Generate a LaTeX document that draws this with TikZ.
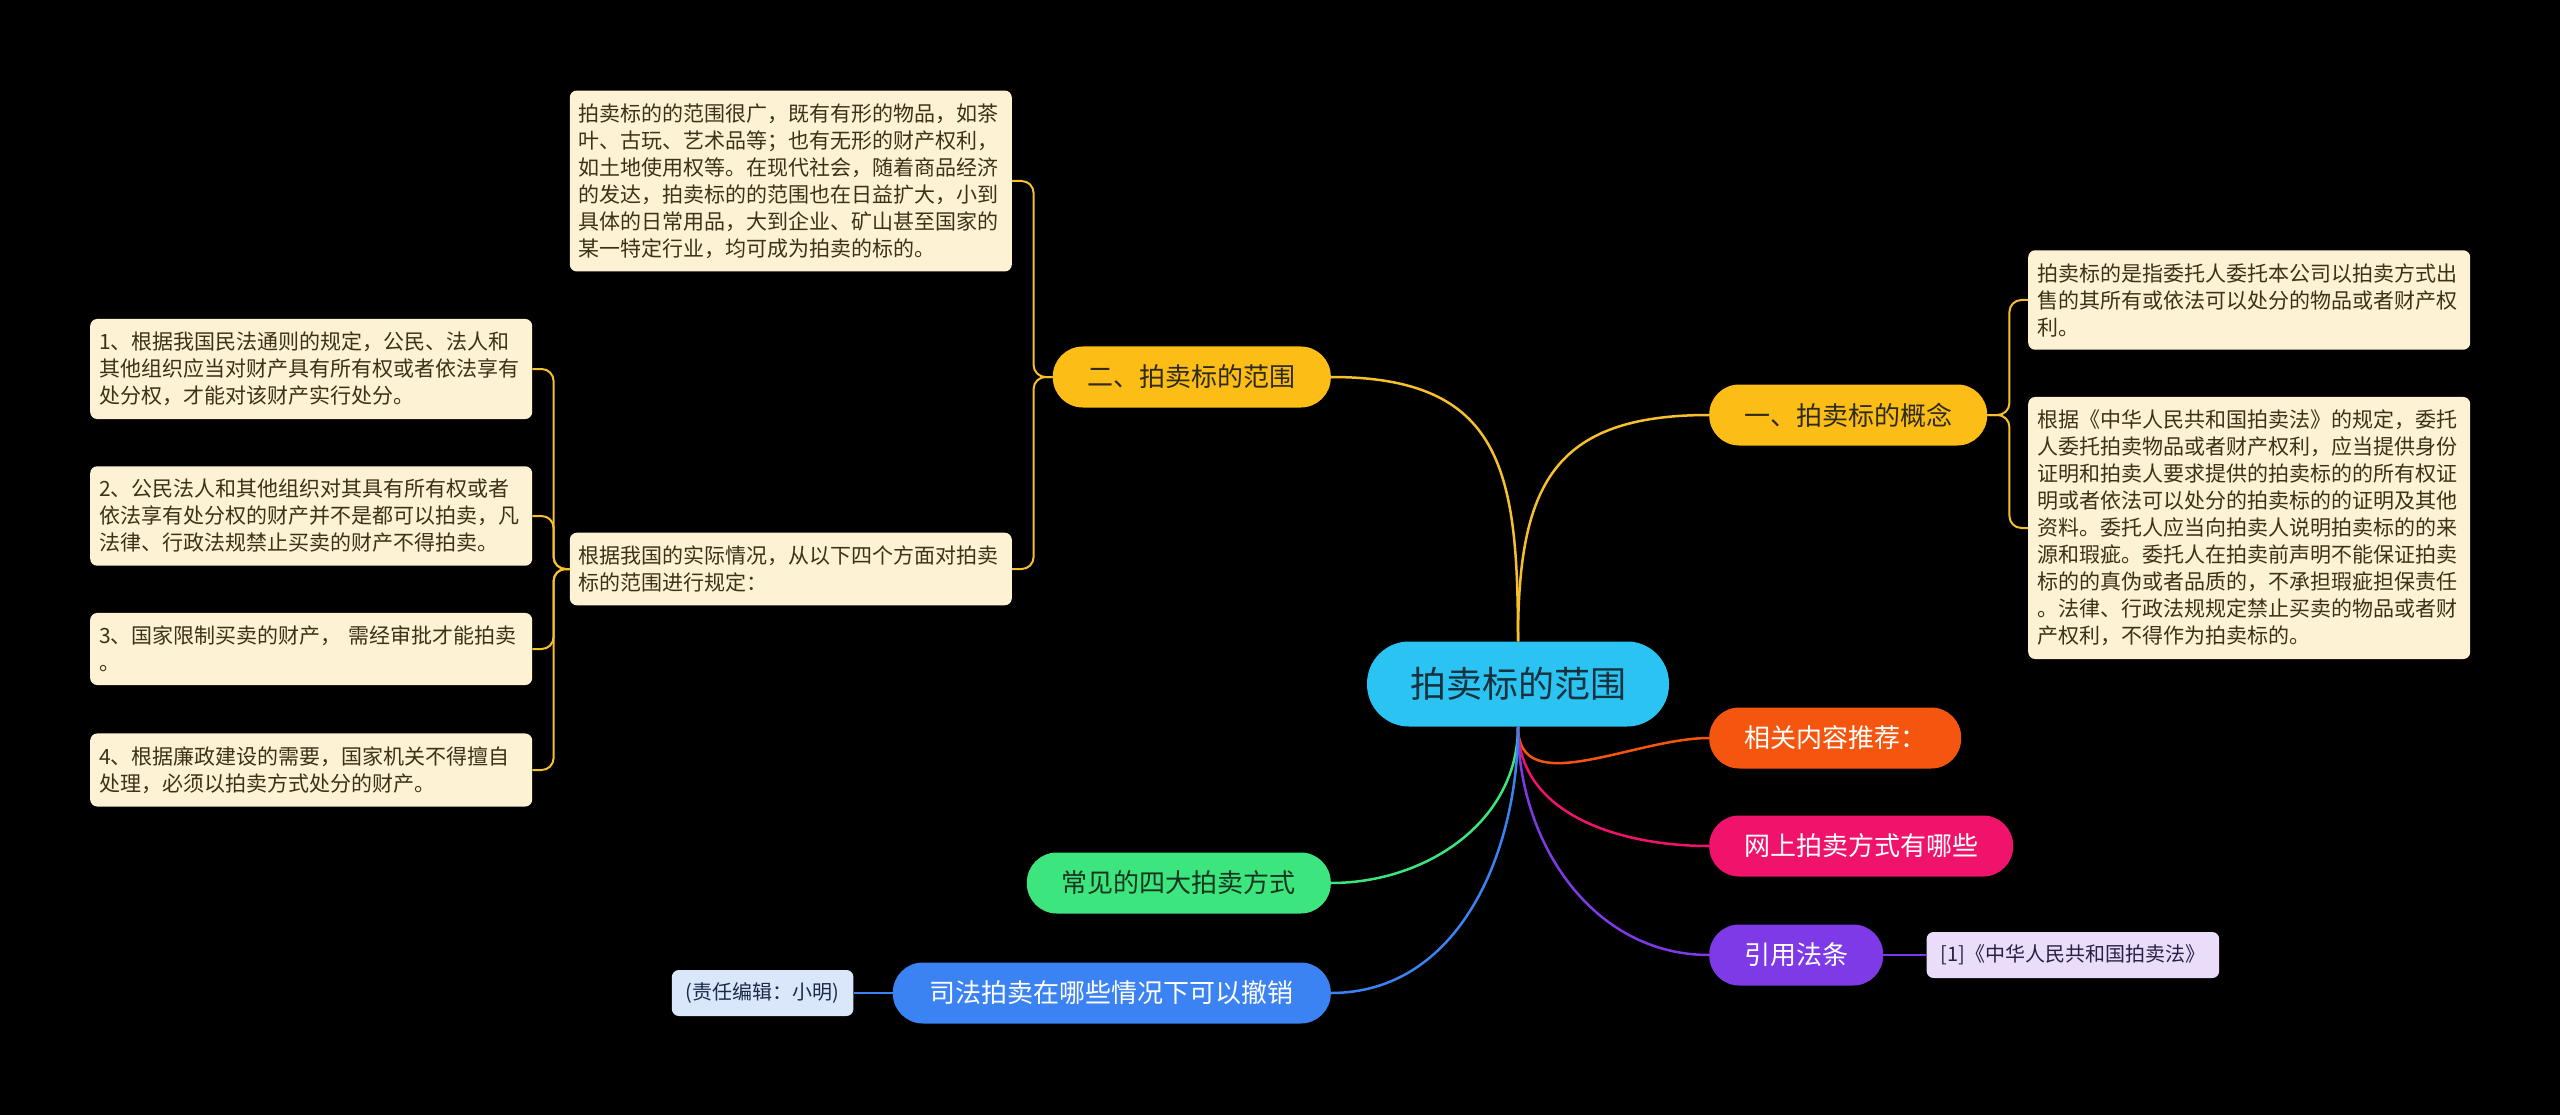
\documentclass[tikz,border=0pt]{standalone}
\usepackage{fontspec}
\setmainfont{Noto Sans CJK SC}
\usetikzlibrary{positioning}
\definecolor{rootfill}{HTML}{2BC3F1}
\definecolor{rootink}{HTML}{16323F}
\definecolor{goldfill}{HTML}{FBBD16}
\definecolor{goldink}{HTML}{2E2A1E}
\definecolor{goldline}{HTML}{F5C02C}
\definecolor{orangefill}{HTML}{F5560F}
\definecolor{pinkfill}{HTML}{F0136C}
\definecolor{purplefill}{HTML}{7D3AE6}
\definecolor{greenfill}{HTML}{3CE57E}
\definecolor{greenink}{HTML}{17351F}
\definecolor{bluefill}{HTML}{3B82F2}
\definecolor{editorfill}{HTML}{DAE7FB}
\definecolor{editorink}{HTML}{1B2A48}
\definecolor{reffill}{HTML}{E9DDFA}
\definecolor{refink}{HTML}{2A1F45}
\definecolor{leaffill}{HTML}{FDF2D4}
\definecolor{leafink}{HTML}{3C3218}
\begin{document}
\begin{tikzpicture}[x=1pt,y=1pt,
	topic/.style={rounded corners=30pt, minimum height=61pt, inner xsep=35pt, inner ysep=0pt,
		font=\fontsize{26}{30}\selectfont},
	leaf/.style={rounded corners=7pt, fill=leaffill, text=leafink, align=left, text width=424pt,
		inner xsep=9pt, inner ysep=13pt, font=\fontsize{21}{27}\selectfont},
	tag/.style={rounded corners=7pt, minimum height=46pt, inner xsep=14pt, inner ysep=0pt,
		font=\fontsize{20}{24}\selectfont},
	link/.style={line width=2.5pt},
	twig/.style={line width=2pt, rounded corners=12pt, draw=goldline}]
\useasboundingbox (0,0) rectangle (2560,-1115);
\fill[black] (0,0) rectangle (2560,-1115);

\node[fill=rootfill, text=rootink, rounded corners=42pt, minimum height=85pt, inner xsep=43pt,
	font=\fontsize{36}{40}\selectfont] (root) at (1518,-684) {拍卖标的范围};

\node[topic, fill=goldfill, text=goldink, anchor=west] (concept) at (1709,-415) {一、拍卖标的概念};
\node[topic, fill=goldfill, text=goldink, anchor=east] (scope) at (1331,-377) {二、拍卖标的范围};
\node[topic, fill=orangefill, text=white, anchor=west] (related) at (1709,-738) {相关内容推荐：};
\node[topic, fill=pinkfill, text=white, anchor=west] (online) at (1709,-846) {网上拍卖方式有哪些};
\node[topic, fill=purplefill, text=white, anchor=west] (law) at (1709,-955) {引用法条};
\node[topic, fill=greenfill, text=greenink, anchor=east] (four) at (1331,-883) {常见的四大拍卖方式};
\node[topic, fill=bluefill, text=white, anchor=east, inner xsep=37pt] (judicial) at (1331,-993) {司法拍卖在哪些情况下可以撤销};

\node[tag, fill=reffill, text=refink, right=43pt of law] (lawref) {[1]《中华人民共和国拍卖法》};
\node[tag, fill=editorfill, text=editorink, left=39pt of judicial] (editor) {(责任编辑：小明)};

\node[leaf, anchor=west] (def) at (2028,-300) {拍卖标的是指委托人委托本公司以拍卖方式出\\售的其所有或依法可以处分的物品或者财产权\\利。};
\node[leaf, anchor=west] (rule) at (2028,-528) {根据《中华人民共和国拍卖法》的规定，委托\\人委托拍卖物品或者财产权利，应当提供身份\\证明和拍卖人要求提供的拍卖标的的所有权证\\明或者依法可以处分的拍卖标的的证明及其他\\资料。委托人应当向拍卖人说明拍卖标的的来\\源和瑕疵。委托人在拍卖前声明不能保证拍卖\\标的的真伪或者品质的，不承担瑕疵担保责任\\。法律、行政法规规定禁止买卖的物品或者财\\产权利，不得作为拍卖标的。};
\node[leaf, anchor=east] (wide) at (1012,-181) {拍卖标的的范围很广，既有有形的物品，如茶\\叶、古玩、艺术品等；也有无形的财产权利，\\如土地使用权等。在现代社会，随着商品经济\\的发达，拍卖标的的范围也在日益扩大，小到\\具体的日常用品，大到企业、矿山甚至国家的\\某一特定行业，均可成为拍卖的标的。};
\node[leaf, anchor=east] (aspects) at (1012,-569) {根据我国的实际情况，从以下四个方面对拍卖\\标的范围进行规定：};
\node[leaf, anchor=west] (asp1) at (90,-369) {1、根据我国民法通则的规定，公民、法人和\\其他组织应当对财产具有所有权或者依法享有\\处分权，才能对该财产实行处分。};
\node[leaf, anchor=west] (asp2) at (90,-516) {2、公民法人和其他组织对其具有所有权或者\\依法享有处分权的财产并不是都可以拍卖，凡\\法律、行政法规禁止买卖的财产不得拍卖。};
\node[leaf, anchor=west] (asp3) at (90,-649) {3、国家限制买卖的财产， 需经审批才能拍卖\\。};
\node[leaf, anchor=west] (asp4) at (90,-770) {4、根据廉政建设的需要，国家机关不得擅自\\处理，必须以拍卖方式处分的财产。};

\draw[link, goldline] (root.north) to[out=90,in=180,looseness=1.35] (concept.west);
\draw[link, goldline] (root.north) to[out=90,in=0,looseness=1.35] (scope.east);
\draw[link, orangefill] (root.south) to[out=-90,in=180] (related.west);
\draw[link, pinkfill] (root.south) to[out=-90,in=180] (online.west);
\draw[link, purplefill] (root.south) to[out=-90,in=180] (law.west);
\draw[link, greenfill] (root.south) to[out=-90,in=0] (four.east);
\draw[link, bluefill] (root.south) to[out=-90,in=0] (judicial.east);

\draw[twig] (concept.east) -- ++(22,0) |- (def.west);
\draw[twig] (concept.east) -- ++(22,0) |- (rule.west);
\draw[twig] (scope.west) -- ++(-19,0) |- (wide.east);
\draw[twig] (scope.west) -- ++(-19,0) |- (aspects.east);
\foreach \n in {asp1,asp2,asp3,asp4}
	\draw[twig] (aspects.west) -- ++(-16,0) |- (\n.east);

\draw[line width=2pt, purplefill] (law.east) -- (lawref.west);
\draw[line width=2pt, bluefill] (judicial.west) -- (editor.east);
\end{tikzpicture}
\end{document}
